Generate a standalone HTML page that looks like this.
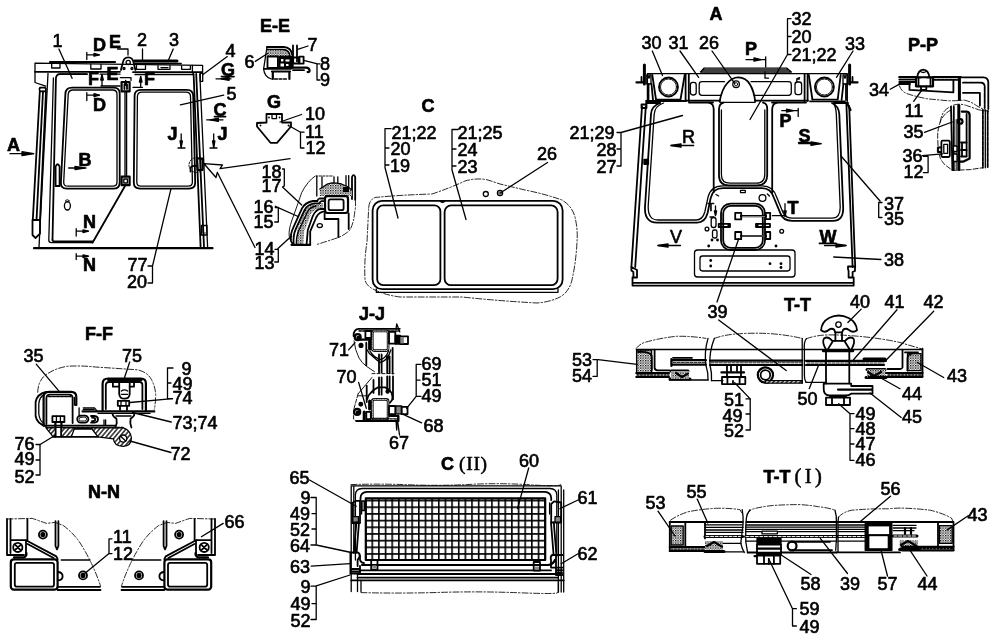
<!DOCTYPE html>
<html lang="en">
<head>
<meta charset="utf-8">
<title>Cab assembly drawing</title>
<style>
html,body{margin:0;padding:0;background:#fff;}
body{width:1000px;height:640px;overflow:hidden;}
svg{display:block;will-change:transform;}
svg text{font-family:"Liberation Sans",sans-serif;font-size:18px;fill:#000;stroke:#000;stroke-width:0.65px;}
svg text.b{font-weight:bold;}
svg text.s{font-family:"Liberation Serif",serif;font-size:19.5px;stroke-width:.55px}
.t{stroke-width:0.9}
.k{stroke-width:1.8}
.k2{stroke-width:2.2}
.k3{stroke-width:3}
.f{fill:#000}
.w{fill:#fff}
.g{fill:#888}
.dd{stroke-dasharray:6 2 1.5 2;stroke-width:0.9;stroke:#111}
</style>
</head>
<body>
<svg width="1000" height="640" viewBox="0 0 1000 640" fill="none" stroke="#000" stroke-width="1.3" stroke-linecap="round" stroke-linejoin="round">
<!-- 01_view1 -->
<g id="view1">
<!-- roof -->
<path d="M35 63.2L202.6 65.4V73M35 63.2V82.5L45.6 86.2"/>
<path class="k2" d="M50 62H115"/>
<path class="k" d="M35 71.8H120M133 72.2H202"/>
<path d="M58 74.2H87M100 74.2H120M135 74.5H193"/>
<path class="k3" d="M134.5 61H177"/><path class="k" d="M134.5 63.6H181"/>
<path d="M51.7 64V68H60V64M90.8 64.4V69H101V64.4M136.5 65.6V69.3H145.5V65.6M158 65.6V69.3H170V65.6M161 67.6H168M181.6 65.8V69.3H190.4V65.8M192.4 65.4V73"/>
<rect x="200.3" y="73.4" width="2.4" height="8" />
<!-- lifting eye -->
<path class="k" d="M120.9 70L122.6 63.5Q123.5 57.3 128.2 57.3Q133 57.3 133.8 63.5L135.4 70"/>
<circle cx="128.2" cy="62.4" r="2.1"/>
<circle cx="124" cy="68.5" r="1"/><circle cx="132" cy="68.5" r="1"/>
<!-- left hook and tube -->
<path class="k" d="M40 87.6H45Q47 89.5 45 91.4H40Q38.6 89.5 40 87.6Z"/>
<path class="k" d="M39.8 91.5L32.8 220M43 91.5L36.5 220M46 91.5L40 220" />
<path d="M48 73.5L39 247"/>
<path class="k" d="M32.5 220H40V233.7L35.5 238L32.5 235Z"/>
<!-- door frame -->
<path class="k" d="M87 74.2H60Q56 74.5 55.9 79L52.5 240"/>
<path d="M53.4 78L48.8 240Q48.8 242.6 51.5 242.6H92.5"/>
<path class="k" d="M52.5 240Q52.6 241.4 54 241.4H92.5"/>
<path class="k" d="M92.5 242.8L125 186"/>
<!-- window 1 -->
<path class="k" d="M72 87.6H113.6Q119.7 87.6 119.7 93.6V182.6Q119.5 188.7 113.5 188.7H67Q60.6 188.7 60.9 182.5L65.4 93.6Q65.8 87.6 72 87.6Z"/>
<path d="M73 90H112.6Q117 90 117 94.4V182Q117 186.2 112.8 186.2H68Q63.4 186.2 63.7 182L68.2 94.4Q68.5 90 73 90Z"/>
<!-- hinge boxes and centre post -->
<rect class="k2" x="121.6" y="82" width="8" height="9.4"/><path class="k" d="M124.4 84.5V89M127 84.5V89M124.4 84.5H127"/>
<rect class="k2" x="121.6" y="176.6" width="8" height="8.6"/><path d="M123.8 179H127.4V183H123.8Z"/>
<path d="M125 91.5V176.5M126.6 91.5V176.5"/>
<!-- window 2 -->
<path class="k" d="M141 89.8H187Q193 89.8 193.2 95.8L195.2 182.6Q195.2 188.7 189 188.7H140Q133.8 188.7 133.8 182.6L134.6 95.8Q134.7 89.8 141 89.8Z"/>
<path d="M142 92.2H186Q190.4 92.2 190.5 96.6L192.4 182Q192.4 186.2 188 186.2H141Q136.8 186.2 136.8 182L137.4 96.6Q137.5 92.2 142 92.2Z"/>
<!-- right post -->
<path class="k" d="M193.6 74L200.6 247M196.2 74L204 247"/>
<path d="M199.8 74L207.6 247"/>
<rect x="201.4" y="225.5" width="5.6" height="9.5"/><path class="t" d="M203 228V233H205.4"/>
<!-- latch at window 2 -->
<path class="k2" d="M197 158.5H202.5V170H197.6Z"/>
<path class="k" d="M196 166Q189 165 190.5 171.5"/>
<circle class="t" cx="196.5" cy="165" r="7.5" stroke-dasharray="2 1.5"/>
<!-- handle, keyhole -->
<path class="k" d="M55.6 186V166.5Q57.6 162 59.6 166.5V186Z"/>
<ellipse cx="67.4" cy="205.8" rx="3" ry="4.2"/><ellipse class="t" cx="67.3" cy="201" rx="1.8" ry="1.2"/>
<!-- ground -->
<path class="k2" d="M34 248.2H212.5"/>
<!-- section marks -->
<path d="M86.8 52.4V59.6M86.8 54.8H99M117.5 49H128V55M86.8 92.7V100.5M86.8 95.1H99"/>
<path class="f" d="M99.5 54.8L94 53.4V56.2ZM99.5 95.1L94 93.7V96.5Z"/>
<path d="M102 75V86M101 86H120M133 87.3H142.5M140.7 77V87"/>
<path class="f" d="M102 74.5L100.7 80H103.3ZM140.7 76.5L139.4 82H142ZM125.7 80.5L124.6 85H126.8Z"/>
<path d="M120.3 77.7H131V80.4"/>
<path d="M216 78.8H231M206.7 119.8H223M10 153.7H33.5M68.7 168H86"/><path class="k" d="M221.5 76.6H234M214.5 116.6H225.5"/>
<path class="f" d="M221 78.8L229 77.2V80.4ZM210 119.8L218.4 118.2V121.4ZM33.7 153.7L22 151.7V155.7ZM84.5 168L75 166.4V169.6Z"/>
<path d="M181.2 134V147.6M178 148H185M213.7 134V147.6M210 148H217"/>
<path class="f" d="M181.2 147.6L180 141H182.4ZM213.7 147.6L212.5 141H214.9Z"/>
<path d="M76.2 228.7V236M76.2 231.2H88M76.2 253.7V259.5M76.2 256.2H88"/>
<path class="f" d="M88.5 231.2L83 229.9V232.5ZM88.5 256.2L83 254.9V257.5Z"/>
<!-- leaders -->
<path d="M58.9 49L72.1 78.3M142.5 49V60M173.2 49L168.4 60.2M227.3 56.6L202.7 74.7M223.7 95.1L180.4 104.8"/>
<path d="M171 188.7L152.5 266M148 266H152.5V283H148"/>
<!-- zigzag arrow -->
<path d="M290 158.7L220 168.7L222.5 165L204 163.7L216 177.5L217.3 172.3L255 247.5"/>
</g>

<!-- 02_viewA -->
<g id="viewA">
<!-- top box -->
<path d="M647.4 73.7H847.3M647.4 73.7V102M847.3 73.7V102"/>
<path class="k" d="M646 101H686M810 101.3H845M646 103H660M834 103H848"/>
<path class="k" d="M686 100.6H720M755 100.6H808M689 102.6H713M772 102.6H806"/>
<path d="M720 102.4H755"/>
<!-- lamps -->
<path class="k" d="M652.3 75L656 99.5M684.7 75L680.5 99.5M808.8 75L812.4 99.5M840.7 75L837.7 99.5"/>
<path d="M656 99.5H680.5M812.4 99.5H837.7"/>
<circle class="k" cx="668.5" cy="87" r="9.5"/><circle class="t" cx="668.5" cy="87" r="8"/>
<circle class="k" cx="824.4" cy="87" r="9.5"/><circle class="t" cx="824.4" cy="87" r="8"/>
<path class="k" d="M685.6 74V101M688.8 74V101M804.6 74V101M807.6 74V101"/>
<!-- panel cutouts -->
<rect x="690.4" y="82.4" width="5.8" height="12.6" rx="2.4"/>
<path d="M724.5 81.7H702Q699.2 81.7 699.2 84.5V92.5Q699.2 95.3 702 95.3H721"/>
<path d="M751 81.7H788.5Q791.3 81.7 791.3 84.5V92.5Q791.3 95.3 788.5 95.3H754"/>
<rect x="795" y="82" width="6.6" height="12.7" rx="2.4"/><path d="M796.8 82V79H799.4M797 78.6L799.6 77.6"/>
<!-- dome -->
<path class="k" d="M719.6 101.3Q722 89 727 83.5Q732 77.3 738.3 77.3Q746 77.3 750 84.5Q754 91 755.2 101.3"/>
<circle cx="736.1" cy="84.2" r="3.3"/><circle class="t" cx="736.1" cy="84.2" r="1.6"/>
<!-- roof bar -->
<path d="M704 68.2H787M700.5 72H791.3M703 70H789M704 68.2L700.5 72M787 68.2L791.3 72"/>
<!-- side brackets / antenna -->
<path class="k3" d="M644.4 65V84M849.6 65V84"/>
<path class="k2" d="M636.5 82.4H644M850 82.4H857.5"/>
<path class="k" d="M641.5 77V82M852.5 77V82"/>
<rect x="646.8" y="75" width="4.2" height="9"/><rect x="843" y="75" width="4.3" height="9"/>
<circle class="f" cx="649" cy="77.3" r="0.8"/><circle class="f" cx="845" cy="77.3" r="0.8"/>
<path class="k" d="M648.5 84V100M651.5 84L653 100M846 84V100M843.4 84L841.6 100"/>
<!-- outer posts -->
<path class="k" d="M642 106.5L631.4 267M645.8 106.5L635.2 267"/>
<path class="k" d="M641.5 104.5H646.5V108H641.5Z"/>
<path class="k" d="M631.4 267L637 270V277.5H633.4V272L631.4 270.6Z"/>
<rect class="k f" x="644.2" y="159.6" width="4" height="4.4"/>
<path class="k" d="M846.4 104L852.6 267M849.2 106L855.2 267"/>
<path class="k" d="M848 266.5H855V271L852.6 272V277.5H848.6V271L848 269Z"/>
<path class="k2" d="M847 103L850.5 110"/>
<!-- seal running around windows -->
<path class="k" d="M660 103Q651.6 106 651 114L645 207Q644.4 222.6 657 222.6H697Q705 222.6 707.6 213L710.6 198.4Q712.8 188.2 723 188.2H762Q771 188.2 774 198L780.4 213.4Q783 220.8 792 220.8H833Q843.4 220.8 843.2 208L839.3 114Q838.6 106 832 103"/>
<path d="M663.5 103Q654.8 106 654.2 114L648.2 206Q647.8 220 658 220H696Q702.6 220 704.8 212L708 197.4Q710.6 185.8 722.6 185.8H762.4Q773 185.8 776.6 197L783 212.4Q785.4 218.2 793 218.2H832Q840.4 218.2 840.2 207L836.3 114Q835.8 107 833.6 103"/>
<!-- centre posts and window -->
<path class="k" d="M709 102.6Q713.5 103.5 713.7 109V192M723.6 102.6Q719.2 103.5 719 109V175Q719 185.4 729 185.4H757Q767 185.4 767.2 175V109Q767.4 103.5 763 102.6M777 102.6Q772.4 103.5 772.2 109V193"/>
<path d="M721.4 110V174.5Q721.4 183.2 730 183.2H756Q764.8 183.2 764.8 174.5V110"/>
<!-- hatch -->
<rect class="k" x="721" y="203.7" width="44" height="46.3" rx="9.5"/>
<rect class="k" x="723.2" y="205.9" width="39.6" height="42" rx="7.6"/>
<path class="k2" d="M741 216.2H766M741 236H766"/><path class="w" stroke="none" d="M742 215.9H765V216.5H742ZM742 235.7H765V236.3H742Z"/>
<rect class="k" x="735.2" y="212.8" width="6" height="6.6"/><rect class="k" x="765.8" y="212.8" width="4.4" height="6.4"/>
<rect class="k" x="735.2" y="232" width="6" height="7.2"/><rect class="k" x="765.8" y="232" width="4.4" height="7"/>
<path class="k" d="M718.7 223.8H730V227H718.7ZM756 223.8H770V227H756Z"/>
<path class="k2" d="M728.6 224V227M757.4 224V227"/>
<circle cx="762.5" cy="198" r="3.4"/>
<circle cx="707" cy="229" r="1.9"/><circle cx="781.7" cy="231.3" r="1.9"/>
<g class="f" stroke="none"><circle cx="708.7" cy="246" r="1.4"/><circle cx="776" cy="246" r="1.4"/><circle cx="712" cy="240" r="1.4"/><circle cx="717.5" cy="240" r="1.4"/><circle cx="710.7" cy="260.5" r="1.4"/><circle cx="710.7" cy="266" r="1.4"/><circle cx="770" cy="263.7" r="1.4"/><circle cx="781" cy="263.7" r="1.4"/><circle cx="781" cy="267.5" r="1.4"/></g>
<rect x="711.2" y="217.5" width="4.8" height="10" rx="2.2"/><rect x="712.5" y="230" width="4.5" height="8" rx="1.8"/>
<path d="M715.5 206V215M710 217H714"/><path class="f" d="M715.5 215.5L714.4 211H716.6Z"/>
<rect x="740.5" y="190.4" width="4.8" height="2.2"/><path d="M716 194.5L718.6 196M767.4 194L769.4 196"/>
<!-- plate -->
<rect x="694.5" y="250" width="100.5" height="27" rx="3"/>
<rect x="700" y="256" width="90" height="15" rx="2.4"/>
<!-- ground -->
<path class="k" d="M632.5 282.8H853.7M632.5 285.6H853.7M632.5 277.5V285.6M853.7 277.5V285.6"/>
<!-- section marks -->
<path d="M746 59.6H765.6M765.7 56.8V67M765 71.8V78.2H768.5M781.7 110.6H798M798.2 108.5V116.4"/>
<path class="f" d="M761 59.6L754 58V61.2ZM793.5 110.6L786.5 109.2V112Z"/>
<path d="M671 145.5H693.7M798.7 143.7H821M658 245.5H680.5M824.5 245.5H846"/><path class="k" d="M798.7 142.6H810M819.5 243.4H836"/>
<path class="f" d="M671 145.5L681 143.8V147.2ZM821 143.7L811 142V145.4ZM658 245.5L668 243.8V247.2ZM846 245.5L836 243.8V247.2Z"/>
<path d="M785 203.7V216M772.5 215.7H786"/><path class="f" d="M785 216.5L783.8 211H786.2Z"/>
<!-- leaders -->
<path d="M652.3 51L662.5 75.5M680 51L698.6 77.3M712 51L734.7 83.3M853 51L836.5 77.3"/>
<path d="M791 18.7H787.5V54.5H791M787.5 36.5H791M787.5 54.5L750 119.5"/>
<path d="M617 132.5H621V166H617M617 149H621M621 132.5L682.5 115.5"/>
<path d="M880 201L841 156M882 202.5H878.7V217.5H882M881 259.5L833.7 257"/>
<path d="M738.7 238.7L717 302"/>
</g>

<!-- 03_viewC -->
<g id="viewC">
<rect class="k" x="372.6" y="200.8" width="190" height="88.4" rx="9.5"/>
<rect class="k" x="377.2" y="205.4" width="63.2" height="79.8" rx="6"/>
<rect class="k" x="444.6" y="205.4" width="113" height="79.8" rx="6.5"/>
<path d="M376.3 289V292.3H558V289"/><path class="k" d="M440.4 201Q442.5 203 444.6 201"/>
<circle cx="485.8" cy="194" r="2.5"/><circle cx="500" cy="193" r="2.6"/><circle class="t" cx="500" cy="193" r="1.2"/>
<path class="dd" d="M368.7 207.5Q369 200 375 197.5Q400 195 432 194Q450 188 465 181Q477 177.5 488 180L500 184L525 190Q545 194 562 200Q572 206 575 217Q578 230 577 242Q576 262 572 280Q569 292 560 297Q550 302 537 303Q500 301 462 297H400Q385 295 375 290Q366 286 365 280Q364 260 367 242Q368 222 368.7 207.5Z"/>
<path d="M391 128.7H385V167.5M385 148H389M385 165H389M385 167.5L398 218"/>
<path d="M458 129.5H452V170M452 149H456M452 166H456M452 170L466 219.5"/>
<path d="M547.5 162.5L501 192.5"/>
</g>

<!-- 04_EE_G -->
<g id="EE">
<path class="k" d="M267 47H283.5Q291.5 47.5 292.2 55"/>
<path class="k" d="M267 49.6H283Q289.2 50 289.8 56"/>
<path fill="url(#st)" stroke="none" d="M267.4 50.4H283Q288.6 51 289.4 57.4H278V56.4H267.4Z"/>
<path d="M267 47L263.6 69Q264.5 77 271.3 79"/>
<rect class="k" x="267.5" y="56.5" width="10.4" height="11.5"/>
<path class="k" d="M264 68.8H291"/>
<path class="k2" d="M272.8 71.5V79M289.4 71.5V79M272 71.5H290"/>
<path d="M274.5 79H288" stroke-dasharray="3 1.5"/>
<path class="k" d="M293 45.5V61.4M297 45.5V61.4"/>
<rect class="f" x="279" y="56.5" width="14" height="11.5"/>
<rect class="w" stroke="none" x="281" y="59" width="2.4" height="2.4"/><rect class="w" stroke="none" x="285.5" y="59.5" width="4" height="2"/><rect class="w" stroke="none" x="280.5" y="63.5" width="3.5" height="3"/><rect class="w" stroke="none" x="286" y="64" width="2.5" height="2"/>
<rect class="k2" x="293" y="57.5" width="6" height="6"/>
<rect class="k" x="299.4" y="56.6" width="4.2" height="7"/>
<path class="k2" d="M292 67.6H306Q309.5 67.8 309.6 70.6Q309.4 72.4 307.6 72"/>
<path class="k" d="M293 70.2H304"/>
<path d="M308 46L297.7 49.3M255.3 61.4L268 53.2M317.5 63.8L303.7 60.3M320 63.8H317V80H320"/>
</g>
<g id="G">
<path class="k" d="M266.5 114H282V122.5H291V126.5L277 142.8H270.5L257 126.5V123L266.5 122.5Z"/>
<path d="M272 115V118.6H276.5V115"/>
<g class="f" stroke="none"><circle cx="269" cy="117.5" r="0.9"/><circle cx="279.5" cy="117.5" r="0.9"/><circle cx="260.5" cy="125.5" r="0.9"/><circle cx="288.5" cy="125.5" r="0.9"/></g>
<path d="M301.5 114.5L280 122M300.5 132.2L289.5 126M304 132.2H300.5V148H304"/>
</g>

<!-- 05_corner -->
<g id="corner">
<path class="t" d="M315 176.2Q307.8 181 301.7 192.5L298 203.3L292 220Q288.4 230 289.2 236Q290 243 295.7 245"/>
<path d="M316 176H333" stroke-dasharray="2 1.4" class="t"/>
<path d="M316.8 176.2V196M322 177V187.7M334 177V190M337.8 177V186M346 175.6V190M348.7 175.6V190"/>
<path class="k" d="M352 199V177Q353.6 173.4 355.2 177V199.7"/>
<path fill="url(#st)" stroke="none" d="M319.8 196V189Q322 187.5 323 187Q327 183.4 331.8 182.9Q337 183 341.5 184Q348 186 352 190V196Z"/>
<path d="M319.8 189Q322 187.5 323 187Q327 183.4 331.8 182.9Q337 183 341.5 184Q348 186 352 190"/>
<path class="f" stroke="none" d="M343 187H349V192H343Z"/>
<rect class="k2 w" x="325" y="196.2" width="23" height="16.8" rx="2.5"/>
<rect class="k" x="328.6" y="199.4" width="15" height="10.8" rx="2"/>
<!-- curved seal band -->
<path stroke="url(#st)" style="stroke-width:7" stroke-linecap="butt" d="M323 206.4H316.4Q310.6 207 307.8 212.4L300.6 231L299.8 244"/>
<path class="k" d="M324 198.5H319.5Q317.5 199 317.5 201H313Q305 202.6 302 208.4L293.4 227.4Q290 234 291 240.9Q291.8 244 294.5 245"/>
<path class="k" d="M324 201.2H321.5Q320 201.6 319.6 203.4H314Q307.4 204.6 304.6 210L295.8 229Q293 235 293.6 244.6"/>
<path d="M316 206Q310 207 307.4 212L298.6 231Q296 237 296.4 244.6"/>
<path class="k" d="M324 209H320Q315 210.4 312.6 216.5L307.8 230L306.6 244.5M325 211.4Q319 212 316.4 217L310.2 231.3V244"/>
<path class="k2" d="M291.5 244.8H310.2"/>
<path class="k" d="M324.6 213.5V219H338.4V237M348.7 213.5V229"/>
<path class="dd" d="M355.3 199.7Q356 207 354.7 212Q354 222 350 230Q346 234 339 237.3Q328 241 316.8 244.5"/>
<ellipse cx="319.8" cy="225.6" rx="2.6" ry="2"/>
<path d="M282.5 169H284.3V185.9L282.5 187L301.7 205M275.3 206.3L298.1 216.5M275.3 207.5H278.3V222H274.7M277.7 248.7L291.5 236M275 249.3H278.3V262H274.7"/>
</g>

<!-- 06_PP -->
<g id="PP">
<!-- top plate -->
<path class="k2" d="M899.3 77.2H916M933 77.2H960.6"/>
<path class="k" d="M899.3 79.6H916M933 79.8H958" stroke-dasharray="3 1"/>
<path class="k" d="M899.3 82H916M899.3 84H910"/>
<!-- bolt -->
<path class="k" d="M917.3 77.3Q918 70 923.3 69.6Q928.6 70 929.3 77.3"/>
<path d="M920.5 71.5Q923.3 73.5 926 71.5"/>
<rect class="k2" x="916" y="77.3" width="17" height="9"/>
<rect class="w" stroke="none" x="921.5" y="78.5" width="5" height="6"/>
<path class="k" d="M918.5 77.3V86.3M930.5 77.3V86.3M921 86.3V90H926.3V86.3"/>
<!-- bracket under -->
<path class="k" d="M909.5 83.9V89.9L953.4 92.3V80.3"/>
<path class="k3" d="M959.4 78.5V99.5"/>
<!-- right frame -->
<path class="k" d="M960.6 77.3H983.5Q988.3 77.6 988.3 82.4V109"/>
<path class="k" d="M963 82.7H981Q984.7 83 984.7 86.6V108" stroke-dasharray="5 1"/>
<path class="k" d="M963 92.9H979.9V105.5"/>
<!-- break lines -->
<path class="dd" d="M899.3 85.7Q901 91 906.5 93.5Q917 97 928.1 98.9L947.4 100.7Q956 101 964.2 100.1Q971 101.5 976.3 105.5Q982 109 988.3 111"/>
<path class="dd" d="M940.2 122.4Q941 115 945 110.4Q950 105.6 957 104.3Q962 104 966.6 105.5L978.7 109.8L988.3 111.5"/>
<!-- lower part -->
<path class="k" d="M951 106.7L952.4 170M953.8 106.7V170"/>
<path class="k3" d="M958.8 105.5V169.5"/>
<path class="k" d="M956.4 120V169" stroke-dasharray="2 1.2" stroke="#555"/>
<path class="k2" d="M961.8 111.6H966.6Q969.6 111.8 969.6 115V158.5L963 161.7H960"/>
<path class="k" d="M966.6 114V156"/>
<circle class="k2" cx="960.2" cy="121.4" r="2.3"/>
<rect class="k" x="941.4" y="140.7" width="8.4" height="16.3" rx="1.2"/><rect x="943.8" y="144.3" width="3.8" height="9"/>
<path class="k" d="M937.8 147.5H941.4M937.8 152H941.4M937.8 147.5V152"/>
<rect class="w" x="953.4" y="146" width="3.6" height="5.5"/><rect class="w" x="953.4" y="154" width="3.6" height="7.5"/>
<path class="k" d="M961 142.5H966.6M961 150H966.6M961 156.5H966.6M962 142.5V156.5"/>
<path class="t" stroke-dasharray="5 2" d="M951 110Q943 114 940.2 122Q937 131 937.8 140Q938 150 940.2 158Q943 164 947.4 166.6L952.2 170.2"/>
<path class="t" stroke-dasharray="5 2" d="M952.2 170.4L970.3 169.6L982.3 167.8"/>
<path class="k" stroke-dasharray="4 1.2" d="M982.9 110V167.8M987.7 111V167.8"/>
<path d="M985.3 110V167.8"/>
<!-- leaders -->
<path d="M890.2 89.3L899.9 83.9M913.7 101.3L921.5 90.5M924.5 132.3L952.2 122M922.1 155.7L942.6 153.9M923.3 156.3H928.1V172.6H923.3"/>
</g>

<!-- 07_FF -->
<defs>
<pattern id="h1" width="3.4" height="3.4" patternUnits="userSpaceOnUse" patternTransform="rotate(-50)"><rect width="3.4" height="3.4" fill="#fff" stroke="none"/><path d="M-1 1.7H5" stroke="#000" stroke-width="1.1"/></pattern>
<pattern id="st" width="2.5" height="2.5" patternUnits="userSpaceOnUse"><g stroke="none"><rect width="2.5" height="2.5" fill="#fff"/><rect width="1.3" height="1.3" fill="#000"/><rect x="1.25" y="1.25" width="1.25" height="1.25" fill="#777"/></g></pattern>
</defs>
<g id="FF">
<!-- left seal blob -->
<path class="k" d="M46 392Q37 394 35.6 402V416Q37 424 46 426"/>
<path d="M44 394.6Q39.4 397 38.8 404V414Q39.6 421 44 423.4"/>
<!-- left channel -->
<path class="k2" d="M43.6 425.4V397Q43.6 391.8 49 391.8H71Q76.3 391.8 76.3 397V405"/>
<path class="k" d="M46.4 424V398Q46.6 394.6 50 394.6H69.4Q72.6 394.8 72.6 398V423"/>
<path d="M76.3 405H74.4V397.5" /><path d="M48.5 396.6H70.6" stroke-dasharray="3 1"/>
<rect class="k" x="52.4" y="416.2" width="12" height="5.8"/><path d="M56.4 416.2V422M60.4 416.2V422"/>
<path class="k2" d="M55.4 422V436.6M61.4 422V436.6"/>
<!-- base plate -->
<path class="k" d="M43.3 425.6H115"/><path d="M46 427.4H123" stroke-dasharray="4 1"/>
<!-- hatched lower -->
<path fill="url(#h1)" d="M46 427.8L53 436.6H55.4V427.8Z"/>
<path fill="url(#h1)" d="M61.4 427.8V436.6H71.4L74.2 429H92L98 436.8L113.5 438.8Q114 446.2 123 446.4Q131.4 446 131.4 438Q131 430.6 123.4 427.8Z"/>
<path class="k" d="M53 436.8H98"/>
<circle class="w" cx="123.2" cy="438.6" r="3.6"/><path d="M120.7 436.2L125.7 441"/>
<!-- rings -->
<rect class="k" x="77.2" y="415.6" width="11.2" height="7" rx="3.5"/><rect class="t" x="79" y="417.2" width="7.6" height="3.8" rx="1.9"/>
<path class="k" d="M91 416H94.4Q98 416.4 98 419.3Q98 422.4 94.4 422.6H91M92 417.6Q95.4 418 95.4 419.3Q95.4 421 92 421.2"/>
<path d="M83.3 407.8H94.5L96.7 410.6M83.3 409.4H94M79.1 407.8V416.2M104 420V424.6M105.6 420V424.6"/>
<!-- right channel -->
<path class="k2" d="M102.6 410.6V383.6Q102.8 378.5 108 378.5H141Q145.9 378.6 145.9 383.6V410.6"/>
<path class="k" d="M105.8 409V385Q106 382 109 382H139.6Q142.4 382.2 142.4 385V409"/>
<path class="k" d="M108 380H141.7" stroke-dasharray="3 1"/>
<path class="k" d="M112.9 382.5V386.7H119.2M129.7 386.7H134V382.5"/>
<path class="k" d="M119.2 382.5V394Q119.6 398.7 124.4 398.7Q129.4 398.7 129.7 394V382.5"/>
<path d="M121.4 391Q124.4 388.6 127.6 391M121.4 394.4H127.6"/>
<rect class="k" x="117.8" y="400.8" width="11.4" height="5"/><path d="M121 400.8V405.8M126 400.8V405.8"/>
<path class="k" d="M120 405.8V410M127 405.8V410"/>
<!-- plate under right channel -->
<path class="k2" d="M82.6 411.4H154.3"/><path d="M98 413.4H150"/>
<!-- post -->
<path class="k" d="M112.6 414Q113 417 116.4 418.6Q117.6 423 115.4 427.5M134.4 414Q134 417 130.6 418.6Q129.6 423 131.4 427.5"/>
<path d="M116 416H131"/>
<!-- dash-dot outline -->
<path class="dd" d="M37.7 392.3Q38 383 43.3 376.9Q53 368.6 67.2 366.3Q81 365.4 95.3 367L137.5 369.8Q147.6 372 151.5 379.7Q155.4 387 155.7 395Q155.6 403 154.3 409.2"/>
<!-- leaders -->
<path d="M36.2 364.2L59.4 391.6M129.7 362L123.4 381M172.5 398.7L130 402.5M171.2 422L132.5 412.5M171 452.5L130 441M40.5 444.3L55.2 435.2"/>
<path d="M36 444.5H40V475H36M36 460H40M173 368H167.5V398.7H172.5M167.5 383H171"/>
</g>

<!-- 08_NN -->
<defs>
<g id="nnhalf">
<rect class="k2" x="10.8" y="559.4" width="46.8" height="30.2" rx="3"/>
<rect class="k" x="14.8" y="562.8" width="39.2" height="23.8" rx="2.2"/>
<path class="k" d="M7 519V555H24M10.5 519V553M27.4 519V540.2"/>
<path class="k" d="M11.2 540.2H26V555"/>
<circle class="k" cx="17.8" cy="547.4" r="4.6"/><path class="k" d="M14.6 544.2L21 550.6M15 550L20.6 544.8"/>
<path class="k2" d="M14 557.4H24Q27 556 26.4 553"/>
<path class="k" d="M26 540.2L56.3 556.4L57.7 559.2M27.6 544L53.6 558"/>
<path class="k" d="M55.5 521.2V546L57 549.4L58.4 546V521.2"/>
<circle class="k" cx="42.9" cy="534.6" r="4"/><circle class="f" cx="42.9" cy="534.6" r="1.9"/>
<circle class="k" cx="83" cy="575.4" r="4"/><circle class="f" cx="83" cy="575.4" r="1.9"/>
<path class="k" d="M58.4 572Q62.6 572.6 62.6 576.2Q62.6 579.8 58.4 580.4"/>
<path d="M61.2 560H90"/>
<path class="k" d="M57.7 586.8H100M57.7 590H100.5"/>
<path class="dd" d="M7 519L32.3 518.4Q40 521 46.4 523.4L55 522.4L63.3 525.5Q72 532 78.8 541Q86 552 91.4 563.4Q97 575 100.5 586"/>
</g>
</defs>
<g id="NN">
<use href="#nnhalf"/>
<use href="#nnhalf" transform="translate(222,0) scale(-1,1)"/>
<path d="M112 538.8H109V553.6H112M109 553.6L85 573.3M223.2 523.4L201.4 536.7"/>
</g>

<!-- 09_JJ -->
<g id="JJ">
<!-- top piece -->
<path class="k" d="M353.6 336Q353.4 329 359 328.8H399.8" />
<path stroke-dasharray="2.4 1.2" d="M359 331H399"/>
<rect class="k2" style="stroke-width:2.6" x="372.3" y="331" width="15.8" height="19.6" rx="2"/>
<rect class="k" stroke-dasharray="1.6 1" stroke="#fff" x="372.3" y="331" width="15.8" height="19.6" rx="2" style="stroke-width:.8"/>
<circle class="k2" cx="357.7" cy="337.2" r="3"/><circle class="f" cx="358.4" cy="338" r="1.6"/>
<rect class="k" x="365.4" y="331" width="5.9" height="7"/>
<path class="k2" d="M360 339.6H371"/>
<path class="k3" d="M369.6 341V349"/>
<path class="t" d="M354 340.9Q355 350 359 358Q362 363 366.3 366.2L374.5 371.7"/>
<circle class="f" cx="361" cy="345.4" r="1.9"/>
<path class="k" d="M366.3 342.7V365.3M392.6 348V373.5M387.2 356.3V373M389.6 356.3V373"/>
<path class="k" d="M379 354.5V372.6M381.6 354.5V372.6"/>
<path d="M367.2 350Q369 354 372.6 356.3Q377 360.6 380.8 362.6Q388 360 390.8 350M370 351Q373 357 380.8 359.6Q386 358 388.6 351"/>
<circle class="f" cx="388" cy="357.6" r="1.5"/>
<rect class="k" x="389" y="331.8" width="6.3" height="11.8"/>
<rect class="f" x="395.3" y="335.4" width="5" height="8.6"/>
<rect class="k" x="400.3" y="336.3" width="7.7" height="7.7"/><rect class="g" stroke="none" x="400.3" y="337" width="3.6" height="6.4"/>
<path d="M396.7 324L399.8 331.8M396.7 324L396 329"/>
<!-- break -->
<path class="t" stroke-dasharray="3 2" d="M372 373.6H394"/>
<!-- bottom piece -->
<path class="k" d="M366.7 385.6V402M373.5 380V392.9M393 376.5V399.2M387.2 376.5V391M389.6 376.5V391"/>
<path class="k" d="M379 377.4V394.7M381.6 377.4V394.7"/>
<path class="k" d="M367.2 399.2Q368 395 370.8 392.9Q374 389 378 387.4H385.3Q389.6 389.6 391.7 392.9Q393 397 392.1 400L389.9 402.8"/>
<circle class="f" cx="387.6" cy="391.6" r="1.6"/>
<path class="t" d="M372 377.4L358.1 393.8"/>
<path class="t" stroke-dasharray="4 1.6" d="M358.1 393.8L353.6 410V419.1L356.3 421.4"/>
<path class="t" d="M358 395.8H367"/>
<rect class="k2" style="stroke-width:2.6" x="372.3" y="399.4" width="15.8" height="19.6" rx="2"/>
<rect class="k" stroke-dasharray="1.6 1" stroke="#fff" x="372.3" y="399.4" width="15.8" height="19.6" rx="2" style="stroke-width:.8"/>
<circle class="f" cx="360.8" cy="404.2" r="1.8"/>
<circle class="k2" cx="357.2" cy="411.9" r="3"/><circle class="f" cx="358" cy="412.4" r="1.6"/>
<rect class="k" x="366.3" y="411.9" width="4.5" height="7.2"/><path class="k3" d="M364.2 412V420"/>
<path class="k3" d="M369.6 401V409"/>
<path class="k" d="M356.3 421H398"/>
<path stroke-dasharray="2.4 1.2" d="M372 418.8H398"/>
<rect class="k" x="389" y="406" width="6.3" height="8.2"/>
<rect class="g" x="395.8" y="406" width="5.8" height="7.8"/>
<rect class="k" x="401.6" y="406.9" width="5.9" height="7.3"/>
<path class="k" d="M389 416H398.6V421"/>
<path d="M398 414.6L396.7 430M396.7 430L396 420"/>
<!-- leaders -->
<path d="M348.6 349.9L355 342.7M358.6 382.4L366.3 408.3M399.5 435L397.5 420M421.6 422.8L402.6 414.2"/>
<path d="M421 364.4H416.2V396.3H421M416.2 380.2H420M416.2 396.3L406.6 408.3"/>
</g>

<!-- 10_CII -->
<defs>
<pattern id="mesh" x="364.8" y="499.7" width="6.65" height="6.68" patternUnits="userSpaceOnUse"><rect width="6.65" height="6.68" fill="#fff" stroke="none"/><path d="M0.8 0V6.68M0 0.8H6.65" stroke="#000" stroke-width="1.6" stroke-linecap="butt"/></pattern>
</defs>
<g id="CII">
<path class="dd" d="M351 484.6Q380 483.6 410 484.8T470 484.4T530 484.8T561 484.6"/>
<path d="M351.2 485.8H561.2M351.2 485.8V591.5M353.8 485.8V553M561.2 485.8V592M563.7 490V592M558.4 490V592"/>
<path d="M355.4 560V495Q355.6 488.7 362 488.5H550Q556.6 488.7 556.8 495V556"/>
<path class="k" d="M360.5 500V498Q360.7 492 367 491.8H544.6Q551 492 551.2 498V500"/>
<rect class="k2" x="365.8" y="498.4" width="179.4" height="61.6" fill="url(#mesh)"/>
<!-- bottom frames -->
<path class="k2" d="M362 565H548Q553 564.6 555 560"/>
<path class="k" d="M360 570.4H551M357.5 574H556M357.5 577.6H558M351.2 580.4H563.7"/>
<path d="M357.5 574V591.5M361 580.4V591.5M558.4 580.4V592"/>
<path class="dd" d="M361 592.6Q400 593.6 440 592.4T520 592.8T558 592.4"/>
<!-- left hinge hardware -->
<path class="k" d="M352.2 503L356 500.9H360V523H352.2Z"/><rect class="g" x="361.6" y="501" width="3" height="9.5"/>
<rect class="g" x="352.8" y="516.6" width="5.6" height="5.6"/><path d="M361.6 503V514"/>
<path class="k" d="M356.4 522.5L353.8 552.5M359 522.5L356.6 552.5"/>
<path class="k" d="M350.4 552.5H358Q360.6 554 359.4 557L357.6 560V566M350.4 552.5V573.7H360V566"/>
<path class="k2" d="M352 569H359M352 571.6H359"/>
<rect class="k" x="371.2" y="560" width="6.3" height="9.6"/><rect class="g" stroke="none" x="372.4" y="565.4" width="4" height="3"/>
<path class="k" d="M360 556V560Q361 563 364 563"/>
<!-- right hinge hardware -->
<path class="k" d="M561.2 502.5L554 501.4L551.2 504V522.5H561.2Z"/>
<rect class="g" x="555" y="516.6" width="5.6" height="5.6"/><path d="M549.6 503V514"/>
<path class="k" d="M551 522.5L553.6 555M553.8 522.5L556.4 555"/>
<path class="k" d="M562.5 555H552Q550 557 551 560V567.6H562.5M556 555V575H562.5"/>
<path class="k2" d="M557 570.4H562M557 573H562"/>
<rect class="k" x="533.7" y="562" width="6.3" height="8.6"/><rect class="g" stroke="none" x="535" y="566.6" width="4" height="3"/>
<!-- leaders -->
<path d="M528.7 468L517.5 508.7M578 500L560 508.7M578 553.7L561.2 563.7M309.5 480L356.2 506.2M311.2 566.2L350 563.7"/>
<path d="M311 497.5H316.2V545H311M316.2 513.7H312M316.2 529H312M316.2 545L351.2 552.5"/>
<path d="M311 586.2H315.5L350 575M316.2 586.2V619.5H311M316.2 603.7H312"/>
</g>

<!-- 11_TT -->
<g id="TT">
<!-- outline top -->
<path class="dd" d="M636.3 348.3Q639 344.6 644 342.6Q660 338 676.4 336.3Q692 336 705.9 338.4M714.3 338.4Q724 335 734 334.2Q750 332.6 770 333.6Q788 335 802 338.4M806.4 338.7Q815 335.6 825 335Q840 334.6 855 336Q880 338 900 342.5L921 348.7"/>
<path d="M636.3 349.5H922.5"/>
<!-- left block -->
<rect x="636.6" y="350" width="15" height="23.6" fill="url(#st)"/>
<path class="k" d="M638 352Q650 351 651.8 356V370"/>
<path class="k" d="M654.6 349.7V368Q655 370.4 658 370.4H669.4"/>
<path class="k2" d="M636.3 373H669M636.3 377H669"/><path d="M637 375H669" stroke-dasharray="2 1.4"/>
<!-- left glass band + seal -->
<path class="k2" d="M672 360.2H705.9M672 364.6H705.9M671.4 359V366"/>
<path class="k" d="M673 357.8H692"/>
<path d="M673 362.4H705" stroke-dasharray="3 1.2" class="t"/>
<path class="k3" d="M671 371H688M670 379H690"/>
<rect x="671" y="371" width="18" height="8" fill="url(#st)" stroke="none"/>
<path class="k2" d="M676 373L682 377L688 373.6"/>
<!-- break 1 -->
<path d="M708 338.4Q704 352 705.9 365.1Q708.4 373 708 380M714.3 338.4Q709 352 710 365Q712 373 711.5 380.6"/>
<path d="M669.4 380H708M711.5 380.6H723"/>
<!-- middle band -->
<path class="k2" d="M710 360.6H802.2M710 365H802.2"/>
<path d="M711 362.8H802" stroke-dasharray="3 1.2" class="t"/>
<!-- bolt 51 -->
<path class="k" d="M727 365.8V377M741 365.8V377M731 366V371M737 366V371"/>
<path class="k2" d="M721.4 372.4H744"/>
<rect class="k" x="722" y="377" width="23.3" height="7.1"/><path class="k" d="M727.4 377V384M739.6 377V384M733 381V384"/>
<!-- tube -->
<circle class="k2" cx="765.4" cy="375" r="7.6"/><circle class="k" cx="765.4" cy="375" r="4.8"/>
<path fill="url(#h1)" d="M765.4 380.6H802.2V383.2H765.4Z"/>
<!-- break 2 -->
<path d="M802.2 338.4V383.2M806.4 338.7Q803.6 342 804.4 350V374Q804.4 380 806 382"/>
<path d="M806 382.4H826"/>
<!-- right band -->
<path class="k2" d="M806 360.8H886M806 365H884"/>
<path d="M807 363H884" stroke-dasharray="3 1.2" class="t"/>
<!-- wing nut -->
<path class="k" d="M821.1 330.2Q821.6 322 829 318Q838.7 313 848.6 318Q856.4 322 857 330.2Q853 333.4 849 330Q845.6 327.6 843 330L842.2 332.3H835.2L834.4 330Q832 327.6 828.6 330Q825 333.4 821.1 330.2Z"/>
<circle cx="838.5" cy="324.6" r="2.7"/>
<path class="k" d="M835.4 332.3V340.8M842 332.3V340.8"/>
<path class="k" d="M832.4 341Q828 335.6 824 338.4Q821.6 342 826 349.4M845 341Q849.4 335.6 853.4 338.4Q855.6 342 851.4 349.4"/>
<path class="k" d="M833.1 340.8H844.3L850 349.9H827.5Z"/>
<path class="k3" d="M823.3 350.8H852.8"/>
<path class="k" d="M826 351.3V383.4M849.3 351.3V383.4"/>
<!-- lower flange 45 -->
<path class="k" d="M823.7 383.7H851.2V386H872.5V393.7H851.2Q849 395.4 845 395.4H829Q823.7 395 823.7 389Z"/>
<path class="k2" d="M838 389.6H872M830 396.6H846"/>
<rect class="k" x="826" y="397.6" width="24" height="7.4"/><path class="k" d="M832 397.6V405M844 397.6V405"/>
<!-- item 42 bar and seal 44 -->
<path class="k3" d="M864 359H885"/>
<path class="k3" d="M867 369.4H885M866 377.6H886"/>
<rect x="867" y="369.4" width="18.6" height="8" fill="url(#st)" stroke="none"/>
<path class="k2" d="M868 372L874 376L881 372"/>
<!-- right block 43 -->
<rect x="907.5" y="353.7" width="13.5" height="17" fill="url(#st)"/>
<path class="k" d="M922.5 348.7V376M902.5 350V367.5Q902 369 900 369H887.5"/>
<path class="k" d="M905 352.4H918Q907.6 353 907.5 358V370.6"/>
<path class="k2" d="M886 373H922.5M868.7 376.8H922.5"/><path d="M888 375H922" stroke-dasharray="2 1.4"/>
<!-- leaders -->
<path d="M718.7 320L786.2 370.5M750.2 398.9L734.7 382.7M598 359.6L637.2 364.4M593 359.6H597.2V376.4H593"/>
<path d="M746 398.9H750.2V430H746M746 414H750.2"/>
<path d="M861.2 309.1L847.9 322.5M897 309.8L853.5 359.7M933.7 311.2L886.2 360M943.7 377.5L917.5 362.5M900 388.7L880 377.5M901.2 417.5L870 393M809.2 388.7L818.7 365"/>
<path d="M838.7 403.7L850 413.7M854 413.7H850V460.3H854M850 428.7H854M850 444H854"/>
</g>

<!-- 12_TTI -->
<g id="TTI">
<!-- outline -->
<path class="dd" d="M670.5 520.2Q678 515 688 511.8Q702 509 716.2 508.3Q730 508 740 509.7L742.2 513.9M747.2 514.6Q749 510.6 752.8 509Q762 506.6 772.5 505.5Q786 504.6 800 504.6Q812 505.4 818.1 506.7Q828 507.6 835 510.2M838.5 517.2Q843 512 851.8 510.2Q870 508.6 888.4 508.8Q896 508 902.2 508.1Q917 508.6 930.3 510.2Q942 513 951.4 518L952.8 520.8"/>
<!-- top thick line -->
<path class="k2" d="M669.8 522H742.6M746.6 522H836M838 522H953"/>
<!-- left block -->
<rect x="671.2" y="526" width="12" height="19" fill="url(#st)"/>
<path class="k" d="M669.8 522V551M685.3 523V546"/>
<path class="k2" d="M669.8 547.2H705M669.8 551H705"/><path d="M671 549.2H705" stroke-dasharray="2 1.4"/>
<!-- band stack left of break -->
<path d="M705 524.8H742.6M705 527.4H743M705 530H743M705 532.4H743"/>
<path class="k" d="M705 523V538.4"/>
<path class="k3" d="M705 536.4H742.6" /><path stroke="#fff" stroke-dasharray="3 1.6" d="M706 536.4H742" style="stroke-width:1"/>
<rect x="705" y="541" width="18" height="11" fill="url(#st)" stroke="none"/>
<path class="k3" d="M705 551.4H724"/><path class="k2" d="M707 546L714 542L722 546.6"/>
<path d="M723.3 543.4H741M723.3 551.8H744"/>
<!-- break 1 -->
<path d="M742.2 509.7Q743.6 517 743 525Q741.6 535 740.8 543.4Q742 549 744.3 552.5M750 509.7Q746.6 514 746.4 518Q745.6 526 745.7 532Q745 542 747.6 552.5"/>
<!-- centre band stack -->
<path d="M746.4 525H836.4M746 527.2H836.4M746 529.4H836.4M746 531.6H836.4"/>
<path class="k3" d="M745.6 536.6H836" /><path stroke="#fff" stroke-dasharray="3 1.6" d="M746 536.6H836" style="stroke-width:1"/>
<path d="M746 541.2H836"/>
<rect class="w" x="762" y="531.2" width="15.4" height="2.6"/>
<!-- block 58 -->
<rect class="f" x="757" y="538.5" width="24" height="6.2"/>
<rect class="k w" x="757" y="544.7" width="24" height="10"/>
<path class="k2" d="M757 548.6H781M757 552.8H781"/>
<rect class="k" x="757" y="555.6" width="23.2" height="8.2"/><path class="k" d="M764 555.6V563.8M773.9 555.6V563.8M768.8 559V563.8"/>
<path class="k2" d="M754.6 556.2H757"/>
<!-- tube -->
<circle class="k2" cx="792.1" cy="546" r="4.4"/>
<path class="k" d="M792 541.8H830M792 550.2H832"/>
<path class="k" d="M747.6 552.5H757M781 552.5H836.4"/>
<!-- break 2 -->
<path d="M835 510.2Q836.8 516 836.4 522.2V540Q836 546 835.7 550.3M838.5 517.2Q837.6 522 838 528V552"/>
<!-- right band stack -->
<path d="M838 525H865.4M838 527.2H865.4M838 529.4H865.4M838 531.6H865.4"/>
<path class="k3" d="M838 536.6H865.4"/><path stroke="#fff" stroke-dasharray="3 1.6" d="M839 536.6H865" style="stroke-width:1"/>
<path d="M838 541.2H865.4"/>
<path class="k" d="M836.4 552.4H900"/>
<!-- block 57 -->
<rect class="f" x="865.2" y="523.6" width="26.7" height="26.7"/>
<rect class="w" stroke="none" x="868.7" y="526.4" width="20.4" height="7.7"/>
<rect class="w" stroke="none" x="869.4" y="536.2" width="18.3" height="12"/>
<!-- after block -->
<path d="M893.3 525.4H916M893.3 528H916M893.3 530.6H914"/>
<path class="k3" d="M893.3 536H917"/><path stroke="#fff" stroke-dasharray="3 1.6" d="M894 536H916" style="stroke-width:1"/>
<rect x="899.6" y="540.4" width="18.4" height="9" fill="url(#st)" stroke="none"/>
<path class="k3" d="M899.6 549.4H919"/><path class="k2" d="M901 545L908 541L916 545.6"/>
<path class="k2" d="M905 528V534M911 528V534"/>
<!-- right block 43 -->
<rect x="939.4" y="525.7" width="12.8" height="17.6" fill="url(#st)"/>
<path class="k" d="M953.5 522V550M938 523V546"/>
<path class="k2" d="M902 546.8H953.5M902 550.4H953.5"/><path d="M903 548.6H953" stroke-dasharray="2 1.4"/>
<!-- leaders -->
<path d="M697.2 499.1L707.8 523M658 511.2L675 536M890.5 496.2L860.3 521.5M968.2 515.8L947.2 529.9"/>
<path d="M781.2 555L811 574.5M820.3 538.4L847.5 573.5M881.2 551L887.5 576M909.4 549.4L927 576"/>
<path d="M768.7 558.7L792.5 608.7M796.4 608.7H792.5V626H796.4"/>
</g>

<g id="labels">
<text x="52.5" y="46.5">1</text>
<text x="93" y="51" class="b">D</text>
<text x="109" y="47.5" class="b">E</text>
<text x="137" y="46">2</text>
<text x="169" y="46">3</text>
<text x="225.5" y="57">4</text>
<text x="221" y="76" class="b">G</text>
<text x="226.5" y="100">5</text>
<text x="213.5" y="116" class="b">C</text>
<text x="167.5" y="140" class="b">J</text>
<text x="217.5" y="140" class="b">J</text>
<text x="88" y="85" class="b">F</text>
<text x="106.5" y="79.5" class="b">E</text>
<text x="144" y="85" class="b">F</text>
<text x="93" y="111" class="b">D</text>
<text x="7" y="151" class="b">A</text>
<text x="78.5" y="166" class="b">B</text>
<text x="83" y="228" class="b">N</text>
<text x="83" y="271" class="b">N</text>
<text x="127.5" y="271">77</text>
<text x="127" y="288">20</text>
<text x="260" y="32" class="b">E-E</text>
<text x="307.5" y="51">7</text>
<text x="244.5" y="67.5">6</text>
<text x="320" y="70">8</text>
<text x="320" y="86">9</text>
<text x="267" y="108" class="b">G</text>
<text x="305" y="120">10</text>
<text x="305" y="137.5">11</text>
<text x="305.5" y="154">12</text>
<text x="261.5" y="178">18</text>
<text x="261.5" y="192">17</text>
<text x="253.5" y="213">16</text>
<text x="253.5" y="228">15</text>
<text x="254.5" y="254.5">14</text>
<text x="254.5" y="269">13</text>
<text x="421.5" y="112" class="b">C</text>
<text x="391.5" y="138.5">21;22</text>
<text x="390.5" y="155">20</text>
<text x="390" y="171.5">19</text>
<text x="457.5" y="139">21;25</text>
<text x="457.5" y="156">24</text>
<text x="457.5" y="173">23</text>
<text x="537" y="160">26</text>
<text x="709.5" y="19.5" class="b">A</text>
<text x="791.5" y="25">32</text>
<text x="791.5" y="43">20</text>
<text x="791.5" y="61">21;22</text>
<text x="641.5" y="49">30</text>
<text x="668.5" y="49">31</text>
<text x="699" y="49">26</text>
<text x="745" y="54.5" class="b">P</text>
<text x="779.5" y="127" class="b">P</text>
<text x="682" y="142.5">R</text>
<text x="798.5" y="141.5" class="b">S</text>
<text x="569.5" y="139">21;29</text>
<text x="596.5" y="156">28</text>
<text x="596.5" y="173">27</text>
<text x="787.5" y="214" class="b">T</text>
<text x="707.5" y="211" style="font-size:11px">T</text>
<text x="670" y="243">V</text>
<text x="819.5" y="242.5" class="b">W</text>
<text x="845" y="49.5">33</text>
<text x="884" y="209.5">37</text>
<text x="884" y="224.5">35</text>
<text x="884" y="266">38</text>
<text x="908" y="51" class="b">P-P</text>
<text x="869" y="96">34</text>
<text x="904.5" y="116.5">11</text>
<text x="903.5" y="138">35</text>
<text x="902.5" y="162">36</text>
<text x="903.5" y="178">12</text>
<text x="85" y="340" class="b">F-F</text>
<text x="23.5" y="361.5">35</text>
<text x="122" y="361.5">75</text>
<text x="181.5" y="374.5">9</text>
<text x="172.5" y="389.5">49</text>
<text x="172.5" y="404">74</text>
<text x="172.5" y="429">73;74</text>
<text x="170.5" y="459.5">72</text>
<text x="14.5" y="450">76</text>
<text x="14.5" y="465">49</text>
<text x="14.5" y="482.5">52</text>
<text x="88" y="498" class="b">N-N</text>
<text x="224.5" y="527.5">66</text>
<text x="113" y="542.5">11</text>
<text x="113" y="559.5">12</text>
<text x="359" y="320" class="b">J-J</text>
<text x="329" y="356">71</text>
<text x="336.5" y="382.5">70</text>
<text x="421.5" y="369.5">69</text>
<text x="421.5" y="386">51</text>
<text x="421.5" y="402">49</text>
<text x="423.5" y="431.5">68</text>
<text x="389" y="449">67</text>
<text x="441" y="470" class="b">C</text>
<text x="459" y="469.6" class="s" style="letter-spacing:.7px">(II)</text>
<text x="289.5" y="484">65</text>
<text x="300.5" y="504">9</text>
<text x="290" y="519.5">49</text>
<text x="290" y="536">52</text>
<text x="290" y="552">64</text>
<text x="290" y="572.5">63</text>
<text x="300.5" y="592.5">9</text>
<text x="290.5" y="610">49</text>
<text x="290.5" y="626.5">52</text>
<text x="519" y="467">60</text>
<text x="577.5" y="504">61</text>
<text x="577.5" y="559.5">62</text>
<text x="707.5" y="317.5">39</text>
<text x="784" y="311" class="b">T-T</text>
<text x="850" y="307.5">40</text>
<text x="884.5" y="307.5">41</text>
<text x="923.5" y="307.5">42</text>
<text x="572" y="366">53</text>
<text x="572" y="382">54</text>
<text x="724" y="406">51</text>
<text x="722.5" y="421.5">49</text>
<text x="724" y="437">52</text>
<text x="797.5" y="404.5">50</text>
<text x="947" y="382">43</text>
<text x="902" y="399.5">44</text>
<text x="902" y="422.5">45</text>
<text x="855.5" y="419.5">49</text>
<text x="855.5" y="434.5">48</text>
<text x="855.5" y="450">47</text>
<text x="855.5" y="465.5">46</text>
<text x="763.5" y="482.5" class="b">T-T</text>
<text x="794.5" y="482.5" class="s" style="letter-spacing:3.4px;font-size:20.5px">(I)</text>
<text x="645.5" y="509">53</text>
<text x="686.5" y="498">55</text>
<text x="880.5" y="495">56</text>
<text x="967.5" y="521">43</text>
<text x="800.5" y="589.5">58</text>
<text x="840" y="589.5">39</text>
<text x="877.5" y="589.5">57</text>
<text x="917.5" y="589.5">44</text>
<text x="799.5" y="615">59</text>
<text x="799.5" y="633">49</text>
</g>
</svg>
</body>
</html>
